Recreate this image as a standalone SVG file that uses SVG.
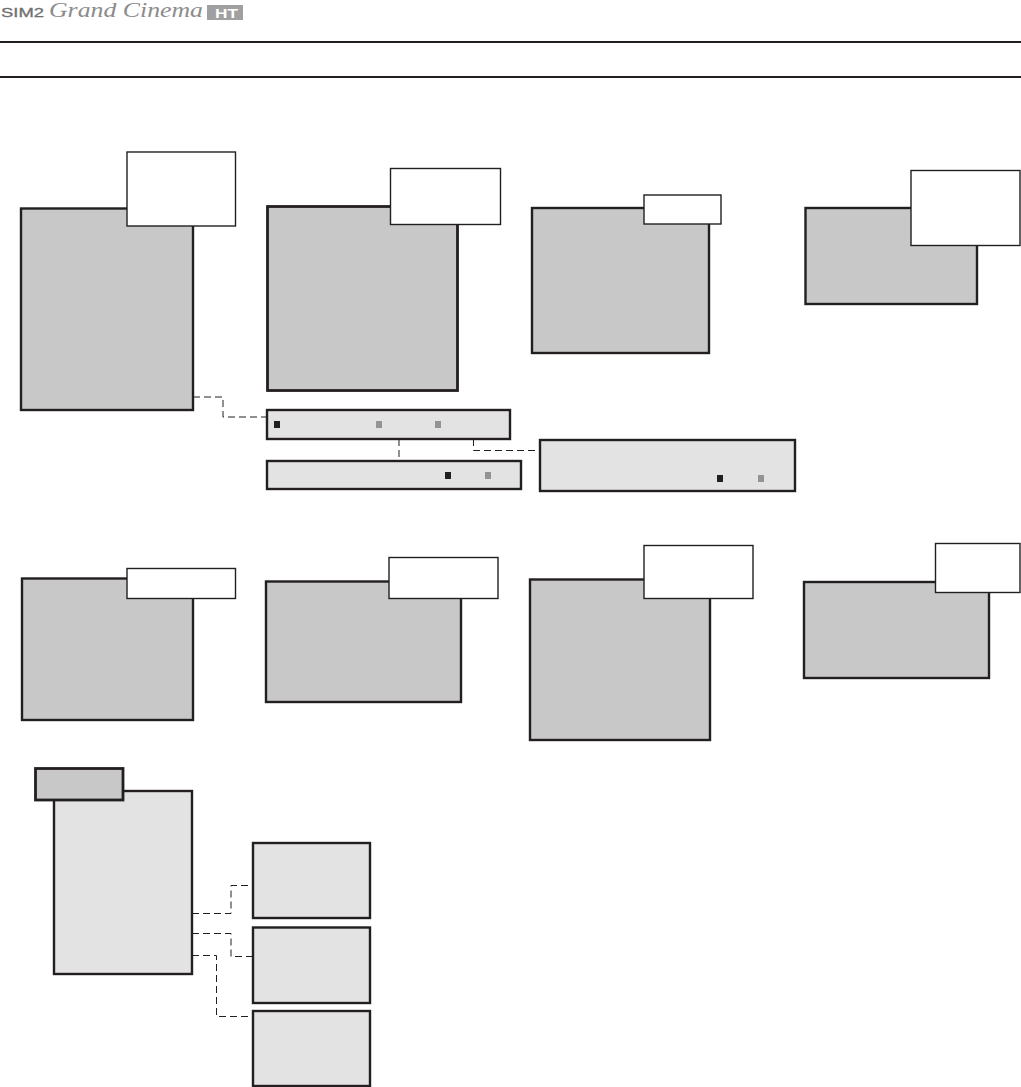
<svg xmlns="http://www.w3.org/2000/svg" width="1021" height="1087" viewBox="0 0 1021 1087">
<style>
.g{fill:#c8c8c8;stroke:#231f20;stroke-width:2.400}
.l{fill:#e3e3e3;stroke:#231f20;stroke-width:2.400}
.w{fill:#fff;stroke:#231f20;stroke-width:1.400}
.c{fill:none;stroke:#231f20;stroke-width:1;stroke-dasharray:7 4}
.k{fill:#231f20}
.m{fill:#939393}
</style>
<rect width="1021" height="1087" fill="#fff"/>
<g id="logo">
<text x="1" y="16.500" font-family="'Liberation Sans',sans-serif" font-size="12.500" fill="#707070" stroke="#707070" stroke-width="0.300" textLength="43" lengthAdjust="spacingAndGlyphs">SIM2</text>
<text x="49" y="17" font-family="'Liberation Serif',serif" font-size="21" font-style="italic" fill="#8c8c8c" textLength="154" lengthAdjust="spacingAndGlyphs">Grand Cinema</text>
<rect x="207" y="5" width="36" height="15" fill="#a0a0a0"/>
<text x="215" y="17.500" font-family="'Liberation Sans',sans-serif" font-size="13" font-weight="bold" fill="#fff" textLength="23" lengthAdjust="spacingAndGlyphs">HT</text>
</g>
<g id="rules" stroke="#231f20" stroke-width="2">
<line x1="0" y1="42" x2="1021" y2="42"/>
<line x1="0" y1="77" x2="1021" y2="77"/>
</g>
<g id="connectors">
<path class="c" d="M193 397H223V417H267"/>
<path class="c" d="M399 439V461"/>
<path class="c" d="M473.500 439V450.500H540"/>
<path class="c" d="M192 913.500H231V885.500H250"/>
<path class="c" d="M192 933.500H231V956.500H253"/>
<path class="c" d="M192 955.500H216.500V1016.500H253"/>
</g>
<g id="node-1"><rect class="g" x="21" y="208.500" width="172" height="201.500"/><rect class="w" x="127" y="152" width="108.500" height="74"/></g>
<g id="node-2"><rect class="g" x="267.500" y="206.500" width="190" height="184" style="stroke-width:2.800"/><rect class="w" x="390.500" y="168.500" width="110" height="56"/></g>
<g id="node-3"><rect class="g" x="532" y="208" width="177" height="145"/><rect class="w" x="644" y="195" width="77" height="29"/></g>
<g id="node-4"><rect class="g" x="805.500" y="208" width="171.500" height="96"/><rect class="w" x="911" y="170.500" width="109" height="75"/></g>
<g id="bar-1"><rect class="l" x="267" y="410" width="243" height="29"/><rect class="k" x="274" y="421" width="6" height="7"/><rect class="m" x="376" y="421" width="6" height="7"/><rect class="m" x="435" y="421" width="6" height="7"/></g>
<g id="bar-2"><rect class="l" x="267" y="461" width="254" height="28"/><rect class="k" x="445" y="472" width="6" height="7"/><rect class="m" x="485" y="472" width="6" height="7"/></g>
<g id="bar-3"><rect class="l" x="540" y="440" width="255" height="51"/><rect class="k" x="717" y="475" width="6" height="7"/><rect class="m" x="758" y="475" width="6" height="7"/></g>
<g id="node-5"><rect class="g" x="22" y="578.500" width="171" height="141.500"/><rect class="w" x="127" y="568.500" width="108.500" height="30"/></g>
<g id="node-6"><rect class="g" x="266" y="581.500" width="195" height="120.500"/><rect class="w" x="389" y="557.500" width="109" height="41"/></g>
<g id="node-7"><rect class="g" x="530" y="579.500" width="180" height="160.500"/><rect class="w" x="644" y="545.500" width="109" height="53"/></g>
<g id="node-8"><rect class="g" x="804" y="582" width="185" height="96"/><rect class="w" x="935.500" y="543.500" width="84.500" height="49"/></g>
<g id="node-9"><rect class="l" x="54" y="791" width="138" height="183"/><rect x="35.500" y="768.500" width="87.500" height="31.500" fill="#c8c8c8" stroke="#231f20" stroke-width="2.800"/></g>
<g id="node-10"><rect class="l" x="253" y="843" width="117" height="75"/></g>
<g id="node-11"><rect class="l" x="253" y="927.500" width="117" height="75.500"/></g>
<g id="node-12"><rect class="l" x="253" y="1011" width="117" height="75"/></g>
</svg>
